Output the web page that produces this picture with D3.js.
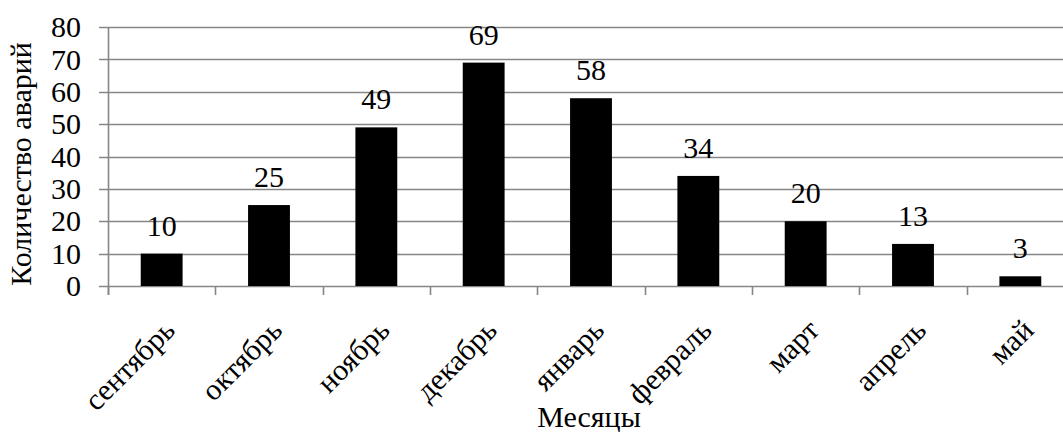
<!DOCTYPE html>
<html><head><meta charset="utf-8">
<script src="https://cdn.jsdelivr.net/npm/d3@7/dist/d3.min.js"></script>
</head><body style="margin:0">
<svg id="c" width="1063" height="432"></svg>
<script>
const categories = ["сентябрь","октябрь","ноябрь","декабрь","январь","февраль","март","апрель","май"];
const values = [10,25,49,69,58,34,20,13,3];
const yTicks = [0,10,20,30,40,50,60,70,80];
const yTitle = "Количество аварий";
const xTitle = "Месяцы";

const svg = d3.select("#c");
const mL = 108, mR = 1074, mT = 27, mB = 286;
const x = d3.scaleBand().domain(categories).range([mL, mR]).padding(0);
const y = d3.scaleLinear().domain([0, 80]).range([mB, mT]);
const grid = "#868686";
const serif = () => '"Liberation Serif"';

svg.selectAll("line.grid").data(yTicks).join("line").attr("class", "grid")
  .attr("x1", mL - 9).attr("x2", mR)
  .attr("y1", d => Math.round(y(d)) + 0.5).attr("y2", d => Math.round(y(d)) + 0.5)
  .attr("stroke", grid).attr("stroke-width", 1.6);

svg.append("line").attr("x1", mL + 0.5).attr("x2", mL + 0.5).attr("y1", y(80)).attr("y2", y(0) + 9)
  .attr("stroke", grid).attr("stroke-width", 1.6);

const bounds = categories.map(c => x(c)).concat([x(categories[categories.length-1]) + x.bandwidth()]);
svg.selectAll("line.xt").data(bounds).join("line").attr("class", "xt")
  .attr("x1", d => Math.round(d) + 0.5).attr("x2", d => Math.round(d) + 0.5)
  .attr("y1", mB).attr("y2", mB + 9)
  .attr("stroke", grid).attr("stroke-width", 1.6);

const bw = x.bandwidth() * 0.39;
svg.selectAll("rect").data(values).join("rect")
  .attr("x", (d, i) => x(categories[i]) + (x.bandwidth() - bw) / 2)
  .attr("y", d => y(d))
  .attr("width", bw)
  .attr("height", d => y(0) - y(d))
  .attr("fill", "#000");

svg.selectAll("text.yt").data(yTicks).join("text").attr("class", "yt")
  .attr("x", mL - 27).attr("y", d => y(d)).attr("dy", "0.34em")
  .attr("text-anchor", "end")
  .style("font-family", serif).style("font-size", "30px")
  .text(d => d);

svg.selectAll("text.val").data(values).join("text").attr("class", "val")
  .attr("x", (d, i) => x(categories[i]) + x.bandwidth() / 2)
  .attr("y", d => y(d) - 18)
  .attr("text-anchor", "middle")
  .style("font-family", serif).style("font-size", "30px")
  .text(d => d);

svg.selectAll("text.cat").data(categories).join("text").attr("class", "cat")
  .attr("transform", d => `translate(${x(d) + x.bandwidth()/2 + 15},${mB + 46}) rotate(-45)`)
  .attr("text-anchor", "end")
  .style("font-family", serif).style("font-size", "30px")
  .text(d => d);

svg.selectAll("text.ttl").data([yTitle]).join("text").attr("class", "ttl")
  .attr("transform", "translate(31,164) rotate(-90)")
  .attr("text-anchor", "middle")
  .style("font-family", serif).style("font-size", "30px")
  .text(d => d);

svg.selectAll("text.xtl").data([xTitle]).join("text").attr("class", "xtl")
  .attr("x", (mL + mR) / 2 - 2).attr("y", 427)
  .attr("text-anchor", "middle")
  .style("font-family", serif).style("font-size", "30px")
  .text(d => d);
</script></body></html>
